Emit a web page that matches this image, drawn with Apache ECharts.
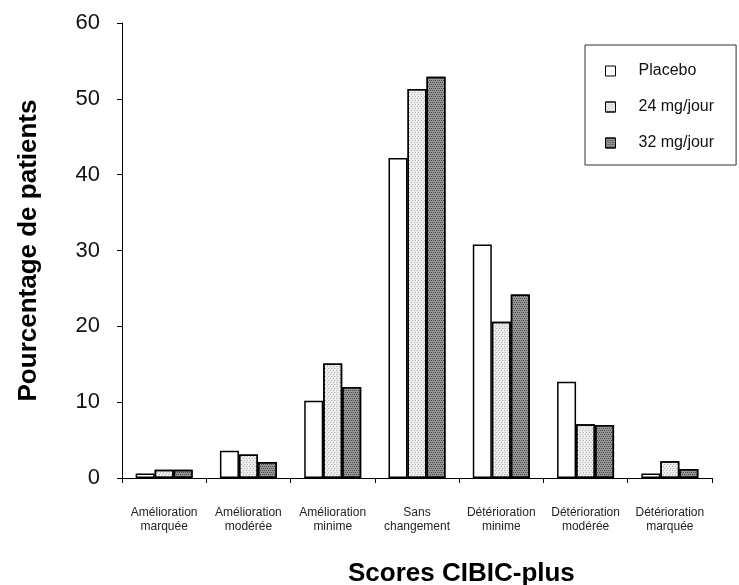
<!DOCTYPE html>
<html>
<head>
<meta charset="utf-8">
<script src="https://cdn.jsdelivr.net/npm/echarts@6/dist/echarts.min.js"></script>
<style>
html,body{margin:0;padding:0;background:#fff;}
#chart{width:739px;height:585px;}
</style>
</head>
<body>
<div id="chart"></div>
<script>
const categories = [
  'Amélioration\nmarquée',
  'Amélioration\nmodérée',
  'Amélioration\nminime',
  'Sans\nchangement',
  'Détérioration\nminime',
  'Détérioration\nmodérée',
  'Détérioration\nmarquée'
];
const seriesNames = ['Placebo', '24 mg/jour', '32 mg/jour'];
const placebo = [0.6, 3.6, 10.2, 42.2, 30.8, 12.7, 0.6];
const mg24 = [1.1, 3.1, 15.1, 51.3, 20.6, 7.1, 2.2];
const mg32 = [1.1, 2.1, 12.0, 52.9, 24.2, 7.0, 1.2];
const yTicks = { min: 0, max: 60, interval: 10 };

const FONT = '"Liberation Sans", Arial, sans-serif';
const chart = echarts.init(document.getElementById('chart'));

function barSeries(name, data, color, decal) {
  const s = {
    name: name,
    type: 'bar',
    data: data,
    barWidth: 19,
    barGap: '0%',
    itemStyle: { color: color, borderColor: '#000', borderWidth: 1.5 },
    emphasis: { disabled: true }
  };
  if (decal) s.itemStyle.decal = decal;
  return s;
}

chart.setOption({
  animation: false,
  backgroundColor: '#fff',
  textStyle: { fontFamily: FONT },
  title: {
    text: 'Scores CIBIC-plus',
    left: 348,
    top: 561,
    padding: 0,
    textStyle: { fontFamily: FONT, fontSize: 26, fontWeight: 'bold', color: '#000' }
  },
  legend: {
    orient: 'vertical',
    left: 585,
    top: 45,
    padding: [18, 22, 14, 20],
    icon: 'rect',
    itemWidth: 10,
    itemHeight: 10,
    itemGap: 20,
    borderColor: '#333',
    borderWidth: 1,
    backgroundColor: '#fff',
    itemStyle: { borderColor: '#000', borderWidth: 1 },
    textStyle: { fontFamily: FONT, fontSize: 16, color: '#111', padding: [0, 0, 0, 18] },
    data: seriesNames
  },
  grid: { left: 122, right: 27, top: 23, bottom: 107, containLabel: false },
  xAxis: {
    type: 'category',
    data: categories,
    boundaryGap: true,
    axisLine: { lineStyle: { color: '#000', width: 1 } },
    axisTick: { show: true, alignWithLabel: false, length: 5, lineStyle: { color: '#000' } },
    axisLabel: { color: '#222', fontSize: 12, lineHeight: 14, margin: 28, interval: 0, fontFamily: FONT }
  },
  yAxis: {
    type: 'value',
    min: yTicks.min,
    max: yTicks.max,
    interval: yTicks.interval,
    name: 'Pourcentage de patients',
    nameLocation: 'middle',
    nameRotate: 90,
    nameGap: 80,
    nameTextStyle: { fontFamily: FONT, fontSize: 26, fontWeight: 'bold', color: '#000' },
    axisLine: { show: true, lineStyle: { color: '#000', width: 1 } },
    axisTick: { show: true, length: 5, lineStyle: { color: '#000' } },
    axisLabel: { color: '#111', fontSize: 22, margin: 22, fontFamily: FONT },
    splitLine: { show: false }
  },
  series: [
    barSeries(seriesNames[0], placebo, '#ffffff', null),
    barSeries(seriesNames[1], mg24, '#ececec', {
      symbol: 'rect', symbolSize: 1, color: '#b4b4b4',
      dashArrayX: [[1, 2], [0, 1, 1, 1]], dashArrayY: [1, 1], rotation: 0
    }),
    barSeries(seriesNames[2], mg32, '#969696', {
      symbol: 'rect', symbolSize: 1, color: '#4a4a4a',
      dashArrayX: [[1, 1], [0, 1, 1, 0]], dashArrayY: [1, 1], rotation: 0
    })
  ]
});
</script>
</body>
</html>
